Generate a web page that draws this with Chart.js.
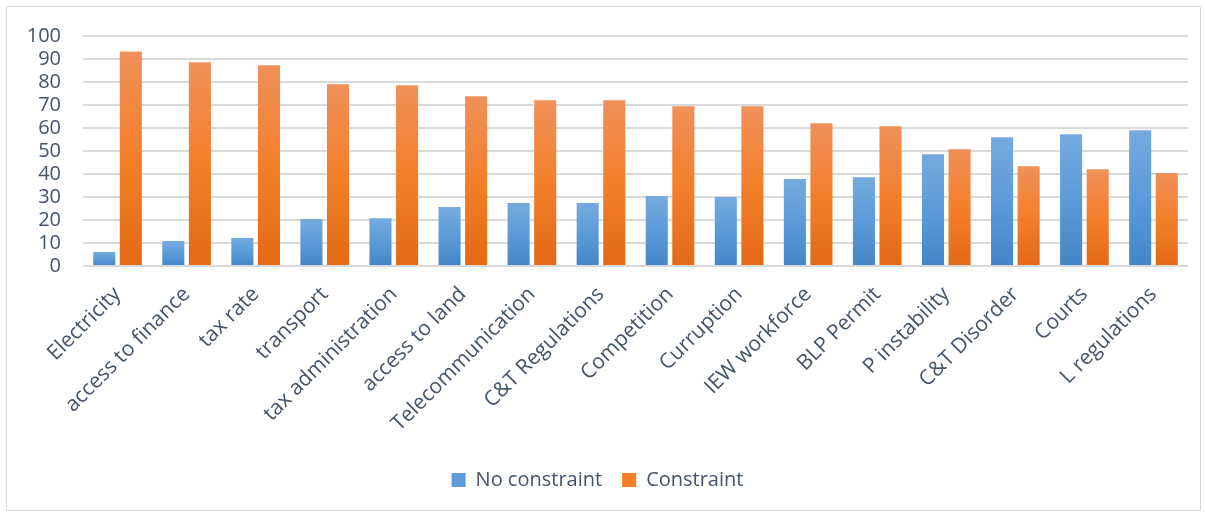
<!DOCTYPE html>
<html>
<head>
<meta charset="utf-8">
<script src="https://cdn.jsdelivr.net/npm/chart.js@4/dist/chart.umd.min.js"></script>
<style>
    body { margin: 0; background: #fff; }
    #box {
        position: absolute; left: 6px; top: 6px;
        width: 1193px; height: 503px;
        border: 1px solid #d9d9d9;
    }
</style>
</head>
<body>
<div id="box"><canvas id="myBarChart"></canvas></div>
<script>
// categories
var labels = ["Electricity", "access to finance", "tax rate", "transport", "tax administration",
    "access to land", "Telecommunication", "C&T Regulations", "Competition", "Curruption",
    "IEW workforce", "BLP Permit", "P instability", "C&T Disorder", "Courts", "L regulations"];
// values
var noConstraint = [6.1, 10.9, 12.2, 20.4, 20.8, 25.6, 27.4, 27.4, 30.4, 30.0, 37.8, 38.6, 48.6, 56.0, 57.3, 59.0];
var constraint = [93.3, 88.6, 87.3, 79.0, 78.6, 73.8, 72.1, 72.1, 69.5, 69.5, 62.1, 60.8, 50.8, 43.4, 42.1, 40.4];
var yTicks = [0, 10, 20, 30, 40, 50, 60, 70, 80, 90, 100];

var textColor = "#44546A";
var font = "'Open Sans', sans-serif";

// gradient theo từng cột, sáng ở đỉnh
function barGradient(top, mid, bottom) {
    return function (c) {
        var chart = c.chart;
        if (!chart.chartArea || c.raw === undefined) return mid;
        var y = chart.scales.y;
        var y0 = y.getPixelForValue(0);
        var y1 = y.getPixelForValue(c.raw);
        if (y0 - y1 < 1) return mid;
        var g = chart.ctx.createLinearGradient(0, y1, 0, y0);
        g.addColorStop(0, top);
        g.addColorStop(0.5, mid);
        g.addColorStop(1, bottom);
        return g;
    };
}

var ctx = document.getElementById("myBarChart").getContext("2d");
var myBarChart = new Chart(ctx, {
    type: "bar",
    data: {
        labels: labels,
        datasets: [
            {
                label: "No constraint",
                data: noConstraint,
                backgroundColor: barGradient("#76AADE", "#5B9BD9", "#4485C7"),
                barPercentage: 0.83,
                categoryPercentage: 0.77,
            },
            {
                label: "Constraint",
                data: constraint,
                backgroundColor: barGradient("#F0905A", "#F47F2A", "#E26916"),
                barPercentage: 0.83,
                categoryPercentage: 0.77,
            },
        ],
    },
    options: {
        responsive: true,
        maintainAspectRatio: false,
        animation: false,
        layout: { padding: { left: 0, right: 12, top: 29, bottom: 10 } },
        plugins: {
            tooltip: { enabled: false },
            legend: {
                position: "bottom",
                labels: {
                    boxWidth: 14,
                    boxHeight: 14,
                    padding: 20,
                    color: textColor,
                    font: { family: font, size: 20 },
                    generateLabels: function (chart) {
                        var cols = ["#5B9BD9", "#F47F2A"];
                        return chart.data.datasets.map(function (d, i) {
                            return { text: d.label, fillStyle: cols[i], strokeStyle: cols[i], lineWidth: 0, datasetIndex: i, fontColor: textColor };
                        });
                    },
                },
            },
        },
        scales: {
            x: {
                grid: { display: false },
                border: { display: false },
                afterFit: function (axis) {
                    axis.height = 184;
                    axis.paddingLeft = 0;
                    axis.paddingRight = 0;
                },
                ticks: {
                    color: textColor,
                    minRotation: 45,
                    maxRotation: 45,
                    autoSkip: false,
                    padding: 8,
                    font: { family: font, size: 21 },
                },
            },
            y: {
                min: 0,
                max: 100,
                afterBuildTicks: function (axis) {
                    axis.ticks = yTicks.map(function (v) { return { value: v }; });
                },
                afterFit: function (axis) {
                    axis.width = 76;
                    axis.paddingTop = 0;
                    axis.paddingBottom = 0;
                },
                grid: { color: "#D9D9D9", lineWidth: 2, drawTicks: false },
                border: { display: false },
                ticks: {
                    color: textColor,
                    autoSkip: false,
                    padding: 22,
                    font: { family: font, size: 20 },
                },
            },
        },
    },
});
</script>
</body>
</html>
